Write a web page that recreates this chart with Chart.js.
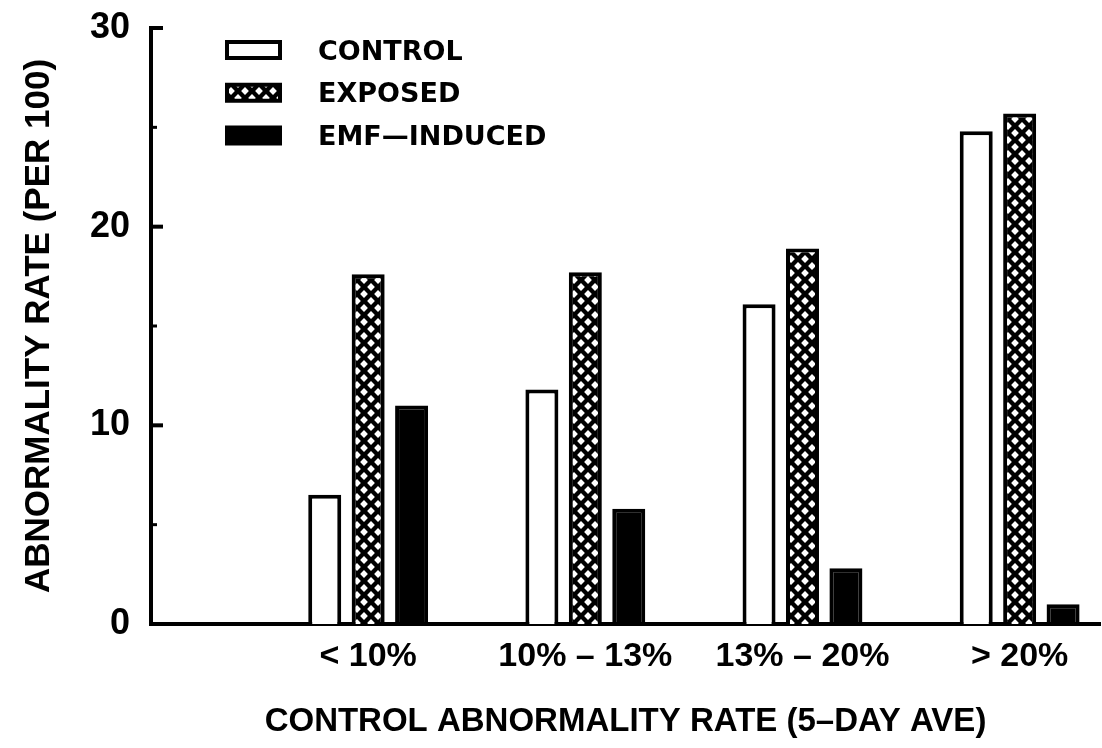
<!DOCTYPE html>
<html>
<head>
<meta charset="utf-8">
<title>Abnormality rate by control abnormality rate</title>
<script src="https://cdn.jsdelivr.net/npm/chart.js@4"></script>
<style>
  html, body { margin: 0; padding: 0; background: #fff; }
  #wrap { width: 1102px; height: 748px; }
</style>
</head>
<body>
<div id="wrap"><canvas id="chart" width="1102" height="748"></canvas></div>
<script>
// Category labels and where each group sits on the x axis
const categories = ['< 10%', '10% – 13%', '13% – 20%', '> 20%'];
const categoryPositions = [1, 2, 3, 4];

// Series
const seriesNames = ['CONTROL', 'EXPOSED', 'EMF—INDUCED'];
const controlRates = [6.5, 11.8, 16.1, 24.8];
const exposedRates = [17.6, 17.7, 18.9, 25.7];
const emfInducedRates = [11.0, 5.8, 2.8, 1.0];

// Axis ticks and titles
const yTickValues = [0, 10, 20, 30];
const yMinorTickValues = [5, 15, 25];
const xTitle = 'CONTROL ABNORMALITY RATE (5–DAY AVE)';
const yTitle = 'ABNORMALITY RATE (PER 100)';

// Black cross-hatch with white diamonds
function crossHatch() {
  const tile = document.createElement('canvas');
  tile.width = 14; tile.height = 14;
  const g = tile.getContext('2d');
  g.fillStyle = '#000';
  g.fillRect(0, 0, 14, 14);
  g.fillStyle = '#fff';
  const r = 3.9;
  [[7, 7], [0, 0], [14, 0], [0, 14], [14, 14]].forEach(([cx, cy]) => {
    g.beginPath();
    g.moveTo(cx, cy - r);
    g.lineTo(cx + r, cy);
    g.lineTo(cx, cy + r);
    g.lineTo(cx - r, cy);
    g.closePath();
    g.fill();
  });
  return g.createPattern(tile, 'repeat');
}

const toPoints = vals => vals.map((v, i) => ({ x: categoryPositions[i], y: v }));

const TEXT_FONT = 'Liberation Sans';

// Short tick marks pointing into the plot from the y axis
const inwardTicks = {
  id: 'inwardTicks',
  afterDraw(chart) {
    const { ctx, chartArea } = chart;
    const y = chart.scales.y;
    ctx.save();
    ctx.strokeStyle = '#000';
    ctx.lineCap = 'butt';
    const mark = (v, len, w) => {
      const py = y.getPixelForValue(v);
      ctx.lineWidth = w;
      ctx.beginPath();
      ctx.moveTo(chartArea.left - 2, py);
      ctx.lineTo(chartArea.left + len, py);
      ctx.stroke();
    };
    yTickValues.filter(v => v > 0).forEach(v => mark(v, 12, 4));
    yMinorTickValues.forEach(v => mark(v, 6, 3));
    ctx.restore();
  }
};

// Stacked legend in the upper-left of the plot
const stackedLegend = {
  id: 'stackedLegend',
  afterDraw(chart) {
    const { ctx, chartArea } = chart;
    const boxLeft = chartArea.left + 76;
    const textLeft = chartArea.left + 167;
    ctx.save();
    ctx.font = 'bold 27px "DejaVu Sans"';
    ctx.textBaseline = 'alphabetic';
    chart.data.datasets.forEach((ds, i) => {
      const cy = chartArea.top + 22 + i * 42.75;
      ctx.fillStyle = ds.backgroundColor;
      ctx.fillRect(boxLeft, cy - 8, 53, 16);
      ctx.lineWidth = 4;
      ctx.strokeStyle = '#000';
      ctx.strokeRect(boxLeft, cy - 8, 53, 16);
      ctx.fillStyle = '#000';
      ctx.fillText(ds.label, textLeft, cy + 9.5);
    });
    ctx.restore();
  }
};

new Chart(document.getElementById('chart'), {
  type: 'bar',
  data: {
    datasets: [
      { label: seriesNames[0], data: toPoints(controlRates), backgroundColor: '#fff', borderColor: '#000', borderWidth: 4 },
      { label: seriesNames[1], data: toPoints(exposedRates), backgroundColor: crossHatch(), borderColor: '#000', borderWidth: 4 },
      { label: seriesNames[2], data: toPoints(emfInducedRates), backgroundColor: '#000', borderColor: '#000', borderWidth: 4 }
    ]
  },
  options: {
    responsive: false,
    animation: false,
    devicePixelRatio: 1,
    categoryPercentage: 0.6,
    barPercentage: 0.76,
    layout: { padding: { top: 28, right: 2, bottom: 0, left: 0 } },
    plugins: { legend: { display: false }, tooltip: { enabled: false } },
    scales: {
      x: {
        type: 'linear',
        min: 0,
        max: 4.37,
        offset: false,
        z: 1,
        grid: { display: false, drawTicks: false, offset: false },
        border: { display: true, color: '#000', width: 4 },
        afterBuildTicks: s => { s.ticks = categoryPositions.map(v => ({ value: v })); },
        ticks: {
          autoSkip: false,
          maxRotation: 0,
          padding: 12,
          color: '#000',
          font: { family: TEXT_FONT, size: 34, weight: 'bold' },
          callback: v => { const i = categoryPositions.indexOf(v); return i >= 0 ? categories[i] : ''; }
        },
        title: {
          display: true,
          text: xTitle,
          color: '#000',
          font: { family: TEXT_FONT, size: 33, weight: 'bold' },
          padding: { top: 0, bottom: 6 }
        },
        afterFit: s => { s.height = 124; s.paddingLeft = 0; s.paddingRight = 0; }
      },
      y: {
        min: 0,
        max: 30,
        grid: { display: false, drawTicks: false },
        border: { display: true, color: '#000', width: 4 },
        afterBuildTicks: s => { s.ticks = yTickValues.map(v => ({ value: v })); },
        ticks: {
          padding: 21,
          color: '#000',
          font: { family: TEXT_FONT, size: 36, weight: 'bold' }
        },
        title: {
          display: true,
          text: yTitle,
          color: '#000',
          font: { family: TEXT_FONT, size: 35, weight: 'bold' },
          padding: { top: 18, bottom: 0 }
        },
        afterFit: s => { s.width = 151; s.paddingTop = 0; s.paddingBottom = 0; }
      }
    }
  },
  plugins: [inwardTicks, stackedLegend]
});
</script>
</body>
</html>
